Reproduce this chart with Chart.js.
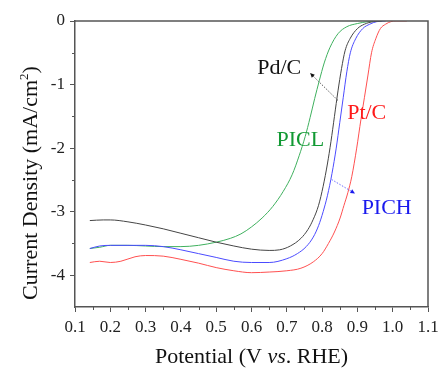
<!DOCTYPE html>
<html>
<head>
<meta charset="utf-8">
<script src="https://cdn.jsdelivr.net/npm/chart.js@4/dist/chart.umd.min.js"></script>
<style>
  html, body { margin: 0; padding: 0; background: #fff; }
  #wrap { width: 438px; height: 368px; }
</style>
</head>
<body>
<div id="wrap"><canvas id="lsv"></canvas></div>
<script>
// LSV curves, potential (V vs. RHE) -> current density (mA/cm2)
const pdcX = [0.142, 0.18, 0.2, 0.25, 0.3, 0.35, 0.4, 0.45, 0.5, 0.55, 0.6, 0.65, 0.68, 0.71, 0.74, 0.76, 0.775, 0.79, 0.803, 0.815, 0.825, 0.835, 0.845, 0.855, 0.865, 0.88, 0.9, 0.92, 0.945, 0.97];
const pdcY = [-3.14, -3.13, -3.13, -3.16, -3.21, -3.27, -3.34, -3.41, -3.48, -3.54, -3.59, -3.61, -3.6, -3.54, -3.42, -3.28, -3.12, -2.9, -2.6, -2.25, -1.9, -1.5, -1.1, -0.75, -0.47, -0.27, -0.12, -0.05, -0.01, 0];

const pichX = [0.142, 0.17, 0.2, 0.25, 0.3, 0.35, 0.4, 0.45, 0.5, 0.55, 0.6, 0.65, 0.7, 0.73, 0.755, 0.775, 0.79, 0.803, 0.815, 0.828, 0.84, 0.85, 0.86, 0.87, 0.88, 0.895, 0.915, 0.935, 0.955, 0.98];
const pichY = [-3.58, -3.54, -3.53, -3.53, -3.53, -3.55, -3.6, -3.66, -3.72, -3.78, -3.8, -3.8, -3.74, -3.66, -3.55, -3.4, -3.22, -3.0, -2.75, -2.4, -2.0, -1.6, -1.2, -0.8, -0.5, -0.28, -0.12, -0.05, -0.01, 0];

const ptcX = [0.142, 0.17, 0.2, 0.23, 0.27, 0.3, 0.35, 0.4, 0.45, 0.5, 0.55, 0.6, 0.65, 0.7, 0.74, 0.775, 0.8, 0.818, 0.835, 0.851, 0.862, 0.873, 0.884, 0.898, 0.91, 0.92, 0.93, 0.94, 0.952, 0.965, 0.98, 0.995, 1.01, 1.04];
const ptcY = [-3.8, -3.78, -3.8, -3.78, -3.71, -3.69, -3.7, -3.75, -3.81, -3.88, -3.93, -3.96, -3.95, -3.93, -3.89, -3.79, -3.66, -3.5, -3.32, -3.1, -2.9, -2.7, -2.45, -2.0, -1.55, -1.2, -0.85, -0.5, -0.28, -0.12, -0.05, -0.01, 0, 0];

const piclX = [0.142, 0.17, 0.2, 0.25, 0.3, 0.35, 0.4, 0.45, 0.5, 0.54, 0.57, 0.6, 0.63, 0.66, 0.69, 0.715, 0.735, 0.752, 0.766, 0.779, 0.792, 0.806, 0.822, 0.845, 0.87, 0.9, 0.93, 0.96];
const piclY = [-3.58, -3.56, -3.53, -3.53, -3.54, -3.55, -3.55, -3.53, -3.48, -3.42, -3.35, -3.24, -3.1, -2.92, -2.68, -2.42, -2.12, -1.82, -1.52, -1.22, -0.94, -0.66, -0.42, -0.2, -0.09, -0.04, -0.01, 0];

const xTicks = [0.1, 0.2, 0.3, 0.4, 0.5, 0.6, 0.7, 0.8, 0.9, 1.0, 1.1];
const yTicks = [0, -1, -2, -3, -4];
const xMinor = [0.15, 0.25, 0.35, 0.45, 0.55, 0.65, 0.75, 0.85, 0.95, 1.05];
const yMinor = [-0.5, -1.5, -2.5, -3.5];

const seriesNames = ['Pd/C', 'PICH', 'Pt/C', 'PICL'];
const lineColors = ['#454545', '#4b4bff', '#ff5050', '#3fb05e'];

const SERIF = '"Liberation Serif", "Times New Roman", serif';
const AXIS = '#555';

const toPoints = (xs, ys) => xs.map((x, i) => ({ x: x, y: ys[i] }));

function makeSet(label, xs, ys, color) {
    return {
        label: label,
        data: toPoints(xs, ys),
        borderColor: color,
        backgroundColor: color,
        borderWidth: 1,
        pointRadius: 0,
        showLine: true,
        cubicInterpolationMode: 'monotone',
        fill: false
    };
}

// frame on top/right, minor ticks, titles and curve labels
const decorPlugin = {
    id: 'decor',
    afterDraw(chart) {
        const { ctx, chartArea: a, scales } = chart;
        const xs = scales.x, ys = scales.y;
        ctx.save();

        ctx.strokeStyle = AXIS;
        ctx.lineWidth = 1.5;
        ctx.beginPath();
        ctx.moveTo(a.left, a.top);
        ctx.lineTo(a.right, a.top);
        ctx.lineTo(a.right, a.bottom);
        ctx.stroke();

        ctx.lineWidth = 1;
        ctx.beginPath();
        xMinor.forEach(v => {
            const px = Math.round(xs.getPixelForValue(v)) + 0.5;
            ctx.moveTo(px, a.bottom);
            ctx.lineTo(px, a.bottom + 3);
        });
        yMinor.forEach(v => {
            const py = Math.round(ys.getPixelForValue(v)) + 0.5;
            ctx.moveTo(a.left, py);
            ctx.lineTo(a.left - 3, py);
        });
        ctx.stroke();

        // x title, "vs." in italics
        ctx.fillStyle = '#111';
        ctx.textBaseline = 'alphabetic';
        const parts = [['Potential (V ', ''], ['vs', 'italic '], ['. RHE)', '']];
        let total = 0;
        parts.forEach(p => { ctx.font = p[1] + '22px ' + SERIF; total += ctx.measureText(p[0]).width; });
        let tx = (a.left + a.right) / 2 - total / 2;
        parts.forEach(p => {
            ctx.font = p[1] + '22px ' + SERIF;
            ctx.fillText(p[0], tx, 363);
            tx += ctx.measureText(p[0]).width;
        });

        // y title with superscript 2
        ctx.save();
        ctx.translate(37, 183);
        ctx.rotate(-Math.PI / 2);
        ctx.font = '22px ' + SERIF;
        const t1 = 'Current Density (mA/cm', t3 = ')';
        const w1 = ctx.measureText(t1).width;
        ctx.font = '13px ' + SERIF;
        const w2 = ctx.measureText('2').width;
        ctx.font = '22px ' + SERIF;
        const w3 = ctx.measureText(t3).width;
        let sx = -(w1 + w2 + w3) / 2;
        ctx.fillText(t1, sx, 0);
        sx += w1;
        ctx.font = '13px ' + SERIF;
        ctx.fillText('2', sx, -9);
        sx += w2;
        ctx.font = '22px ' + SERIF;
        ctx.fillText(t3, sx, 0);
        ctx.restore();

        // curve labels
        const labels = [
            ['Pd/C', '#111', 0.616, -0.827],
            ['Pt/C', '#ff1a1a', 0.871, -1.545],
            ['PICL', '#119933', 0.671, -1.965],
            ['PICH', '#1a1aee', 0.912, -3.03]
        ];
        ctx.font = '22px ' + SERIF;
        labels.forEach(l => {
            ctx.fillStyle = l[1];
            ctx.fillText(l[0], xs.getPixelForValue(l[2]), ys.getPixelForValue(l[3]));
        });

        // dotted pointer arrows
        const arrows = [
            ['#555', '#111', 0.845, -1.25, 0.766, -0.82],
            ['#6a6aff', '#1a1aee', 0.827, -2.494, 0.893, -2.714]
        ];
        arrows.forEach(ar => {
            const x0 = xs.getPixelForValue(ar[2]), y0 = ys.getPixelForValue(ar[3]);
            const x1 = xs.getPixelForValue(ar[4]), y1 = ys.getPixelForValue(ar[5]);
            ctx.strokeStyle = ar[0];
            ctx.fillStyle = ar[1];
            ctx.lineWidth = 1;
            ctx.setLineDash([1.5, 1.5]);
            ctx.beginPath();
            ctx.moveTo(x0, y0);
            ctx.lineTo(x1, y1);
            ctx.stroke();
            ctx.setLineDash([]);
            const ang = Math.atan2(y1 - y0, x1 - x0);
            ctx.beginPath();
            ctx.moveTo(x1, y1);
            ctx.lineTo(x1 - 5 * Math.cos(ang - 0.45), y1 - 5 * Math.sin(ang - 0.45));
            ctx.lineTo(x1 - 5 * Math.cos(ang + 0.45), y1 - 5 * Math.sin(ang + 0.45));
            ctx.closePath();
            ctx.fill();
        });

        ctx.restore();
    }
};

const sets = [
    makeSet(seriesNames[0], pdcX, pdcY, lineColors[0]),
    makeSet(seriesNames[1], pichX, pichY, lineColors[1]),
    makeSet(seriesNames[2], ptcX, ptcY, lineColors[2]),
    makeSet(seriesNames[3], piclX, piclY, lineColors[3])
];

new Chart(document.getElementById('lsv').getContext('2d'), {
    type: 'scatter',
    data: { datasets: sets },
    options: {
        responsive: true,
        maintainAspectRatio: false,
        animation: false,
        layout: { padding: { top: 21, right: 10, left: 0, bottom: 0 } },
        plugins: { legend: { display: false }, tooltip: { enabled: false } },
        scales: {
            x: {
                type: 'linear',
                min: 0.1,
                max: 1.1,
                afterBuildTicks: s => { s.ticks = xTicks.map(v => ({ value: v })); },
                afterFit: s => { s.height = 61; s.paddingLeft = 0; s.paddingRight = 0; },
                grid: { drawOnChartArea: false, drawTicks: true, tickLength: 5, color: AXIS, lineWidth: 1 },
                border: { display: true, color: AXIS, width: 1.5 },
                ticks: {
                    color: '#222',
                    padding: 5,
                    maxRotation: 0,
                    autoSkip: false,
                    font: { family: SERIF, size: 17 },
                    callback: v => Number(v).toFixed(1)
                }
            },
            y: {
                type: 'linear',
                min: -4.5,
                max: 0,
                afterBuildTicks: s => { s.ticks = yTicks.map(v => ({ value: v })); },
                afterFit: s => { s.width = 75; s.paddingTop = 0; s.paddingBottom = 0; },
                grid: { drawOnChartArea: false, drawTicks: true, tickLength: 5, color: AXIS, lineWidth: 1 },
                border: { display: true, color: AXIS, width: 1.5 },
                ticks: {
                    color: '#222',
                    padding: 5,
                    autoSkip: false,
                    font: { family: SERIF, size: 17 },
                    callback: v => String(v)
                }
            }
        }
    },
    plugins: [decorPlugin]
});
</script>
</body>
</html>
